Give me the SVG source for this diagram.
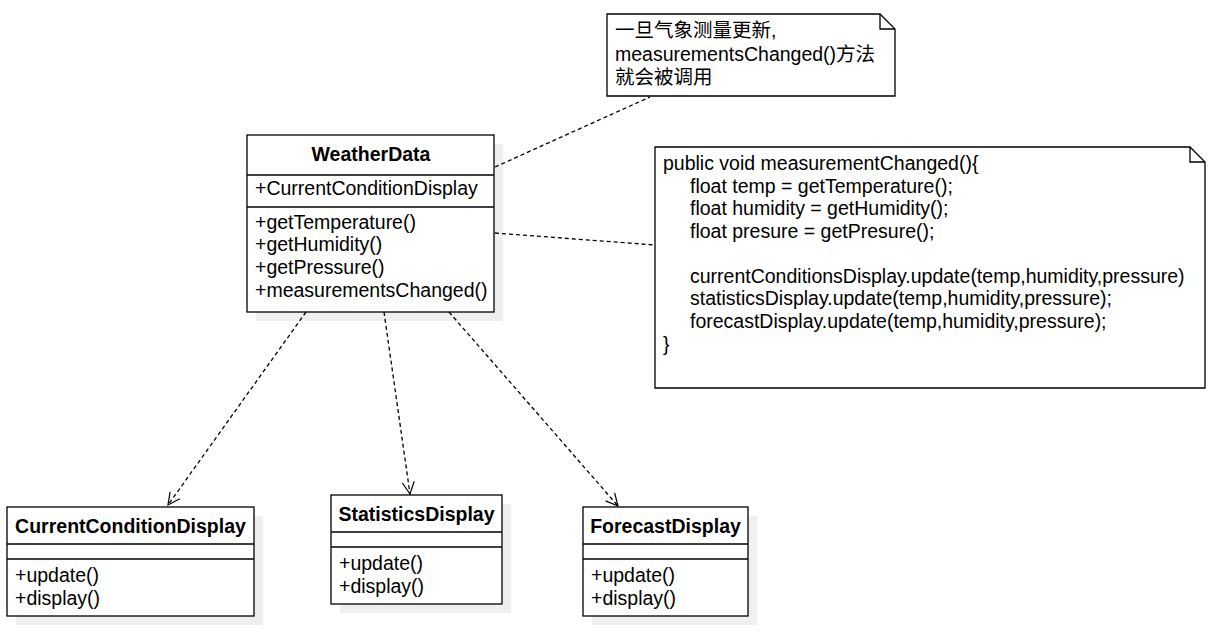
<svg xmlns="http://www.w3.org/2000/svg" width="1219" height="638" viewBox="0 0 1219 638">
<defs>
<style>
.box{fill:#fff;stroke:#000;stroke-width:1.3}
.shadow{fill:#efefef;stroke:none}
.ln{stroke:#000;stroke-width:1.3;fill:none}
.dash{stroke:#000;stroke-width:1.3;fill:none;stroke-dasharray:4 3}
.t{font-family:"Liberation Sans",Arial,"Noto Sans CJK SC",sans-serif;font-size:19.5px;fill:#000}
.b{font-weight:bold}
</style>
<marker id="open" viewBox="0 0 14 14" refX="13" refY="7" markerWidth="14" markerHeight="14" markerUnits="userSpaceOnUse" orient="auto">
<path d="M1,1 L13,7 L1,13" fill="none" stroke="#000" stroke-width="1.2"/>
</marker>
</defs>
<rect width="1219" height="638" fill="#fff"/>

<g id="WeatherData">
<rect class="shadow" x="256" y="144" width="247" height="177"/>
<rect class="box" x="247" y="135" width="247" height="177"/>
<line class="ln" x1="247" y1="175" x2="494" y2="175"/>
<line class="ln" x1="247" y1="207" x2="494" y2="207"/>
<text class="t b" x="371" y="161" text-anchor="middle">WeatherData</text>
<text class="t" x="255" y="195">+CurrentConditionDisplay</text>
<text class="t" x="255" y="229">+getTemperature()</text>
<text class="t" x="255" y="251">+getHumidity()</text>
<text class="t" x="255" y="274">+getPressure()</text>
<text class="t" x="255" y="297">+measurementsChanged()</text>
</g>

<g id="note1">
<path class="box" d="M607,14 L880,14 L895,29 L895,96 L607,96 Z"/>
<path class="ln" d="M880,14 L880,29 L895,29"/>
<text class="t" x="615" y="37">一旦气象测量更新,</text>
<text class="t" x="615" y="61">measurementsChanged()方法</text>
<text class="t" x="615" y="84">就会被调用</text>
</g>

<g id="note2">
<path class="box" d="M655,147 L1190,147 L1205,162 L1205,388 L655,388 Z"/>
<path class="ln" d="M1190,147 L1190,162 L1205,162"/>
<text class="t" x="663" y="170">public void measurementChanged(){</text>
<text class="t" x="690" y="193">float temp = getTemperature();</text>
<text class="t" x="690" y="215">float humidity = getHumidity();</text>
<text class="t" x="690" y="238">float presure = getPresure();</text>
<text class="t" x="690" y="283">currentConditionsDisplay.update(temp,humidity,pressure)</text>
<text class="t" x="690" y="305">statisticsDisplay.update(temp,humidity,pressure);</text>
<text class="t" x="690" y="328">forecastDisplay.update(temp,humidity,pressure);</text>
<text class="t" x="663" y="351">}</text>
</g>

<g id="CurrentConditionDisplay">
<rect class="shadow" x="16" y="516" width="247" height="109"/>
<rect class="box" x="7" y="507" width="247" height="109"/>
<line class="ln" x1="7" y1="544" x2="254" y2="544"/>
<line class="ln" x1="7" y1="559" x2="254" y2="559"/>
<text class="t b" x="130.5" y="533" text-anchor="middle">CurrentConditionDisplay</text>
<text class="t" x="15" y="582">+update()</text>
<text class="t" x="15" y="605">+display()</text>
</g>

<g id="StatisticsDisplay">
<rect class="shadow" x="340" y="504" width="171" height="109"/>
<rect class="box" x="331" y="495" width="171" height="109"/>
<line class="ln" x1="331" y1="532" x2="502" y2="532"/>
<line class="ln" x1="331" y1="547" x2="502" y2="547"/>
<text class="t b" x="416.5" y="521" text-anchor="middle">StatisticsDisplay</text>
<text class="t" x="339" y="570">+update()</text>
<text class="t" x="339" y="593">+display()</text>
</g>

<g id="ForecastDisplay">
<rect class="shadow" x="592" y="516" width="165" height="109"/>
<rect class="box" x="583" y="507" width="165" height="109"/>
<line class="ln" x1="583" y1="544" x2="748" y2="544"/>
<line class="ln" x1="583" y1="559" x2="748" y2="559"/>
<text class="t b" x="665.5" y="533" text-anchor="middle">ForecastDisplay</text>
<text class="t" x="591" y="582">+update()</text>
<text class="t" x="591" y="605">+display()</text>
</g>

<g id="connectors">
<path class="dash" d="M495,167 L650,97"/>
<path class="dash" d="M495,233 L655,245"/>
<path class="dash" d="M306,312 L168,505" marker-end="url(#open)"/>
<path class="dash" d="M384,312 L410,494" marker-end="url(#open)"/>
<path class="dash" d="M449,312 L618,506" marker-end="url(#open)"/>
</g>
</svg>
